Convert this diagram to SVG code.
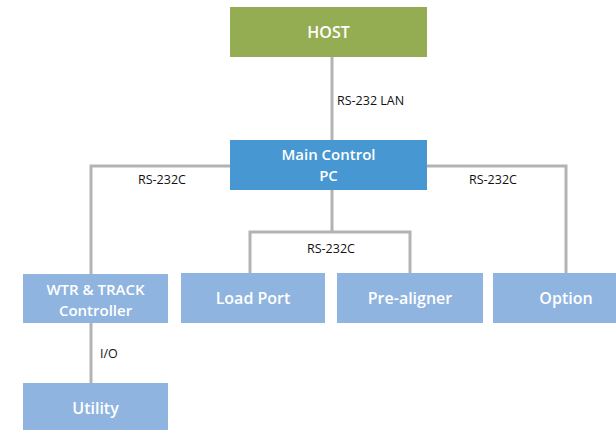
<svg xmlns="http://www.w3.org/2000/svg" width="616" height="430" viewBox="0 0 616 430">
  <style>
    .box { fill: #8fb4e0; }
    .lbl { font-family: "Open Sans", "Noto Sans", sans-serif; font-weight: 600; font-size: 16px; fill: #ffffff; text-anchor: middle; }
    .lbl2 { font-size: 15px; }
    .wire { fill: none; stroke: #b3b3b3; stroke-width: 3; }
    .tag { font-family: "Open Sans", "Noto Sans", sans-serif; font-size: 12.5px; fill: #111111; }
  </style>
  <rect width="616" height="430" fill="#ffffff"/>

  <g id="connectors">
    <path class="wire" d="M332,57 V140"/>
    <path class="wire" d="M230,166 H91 V274"/>
    <path class="wire" d="M427,166 H566 V273"/>
    <path class="wire" d="M332,190 V232"/>
    <path class="wire" d="M250,273 V232 H410 V273"/>
    <path class="wire" d="M91,323 V383"/>
    <text class="tag" x="337" y="105">RS-232 LAN</text>
    <text class="tag" x="138" y="184">RS-232C</text>
    <text class="tag" x="469" y="184">RS-232C</text>
    <text class="tag" x="307" y="253">RS-232C</text>
    <text class="tag" x="100" y="358">I/O</text>
  </g>

  <g id="host">
    <rect x="230" y="7" width="197" height="50" fill="#95ad52"/>
    <text class="lbl" x="328.5" y="38">HOST</text>
  </g>
  <g id="main-pc">
    <rect x="230" y="140" width="197" height="50" fill="#4797d2"/>
    <text class="lbl lbl2" x="328.5" y="160">Main Control</text>
    <text class="lbl lbl2" x="328.5" y="181">PC</text>
  </g>
  <g id="wtr">
    <rect class="box" x="23" y="274" width="145" height="49"/>
    <text class="lbl lbl2" x="95.5" y="295">WTR &amp; TRACK</text>
    <text class="lbl lbl2" x="95.5" y="316">Controller</text>
  </g>
  <g id="load-port">
    <rect class="box" x="181" y="273" width="144" height="50"/>
    <text class="lbl" x="253" y="304">Load Port</text>
  </g>
  <g id="pre-aligner">
    <rect class="box" x="337" y="273" width="146" height="50"/>
    <text class="lbl" x="410" y="304">Pre-aligner</text>
  </g>
  <g id="option">
    <rect class="box" x="493" y="273" width="123" height="50"/>
    <text class="lbl" x="566" y="304">Option</text>
  </g>
  <g id="utility">
    <rect class="box" x="23" y="383" width="145" height="47"/>
    <text class="lbl" x="95.5" y="414">Utility</text>
  </g>
</svg>
